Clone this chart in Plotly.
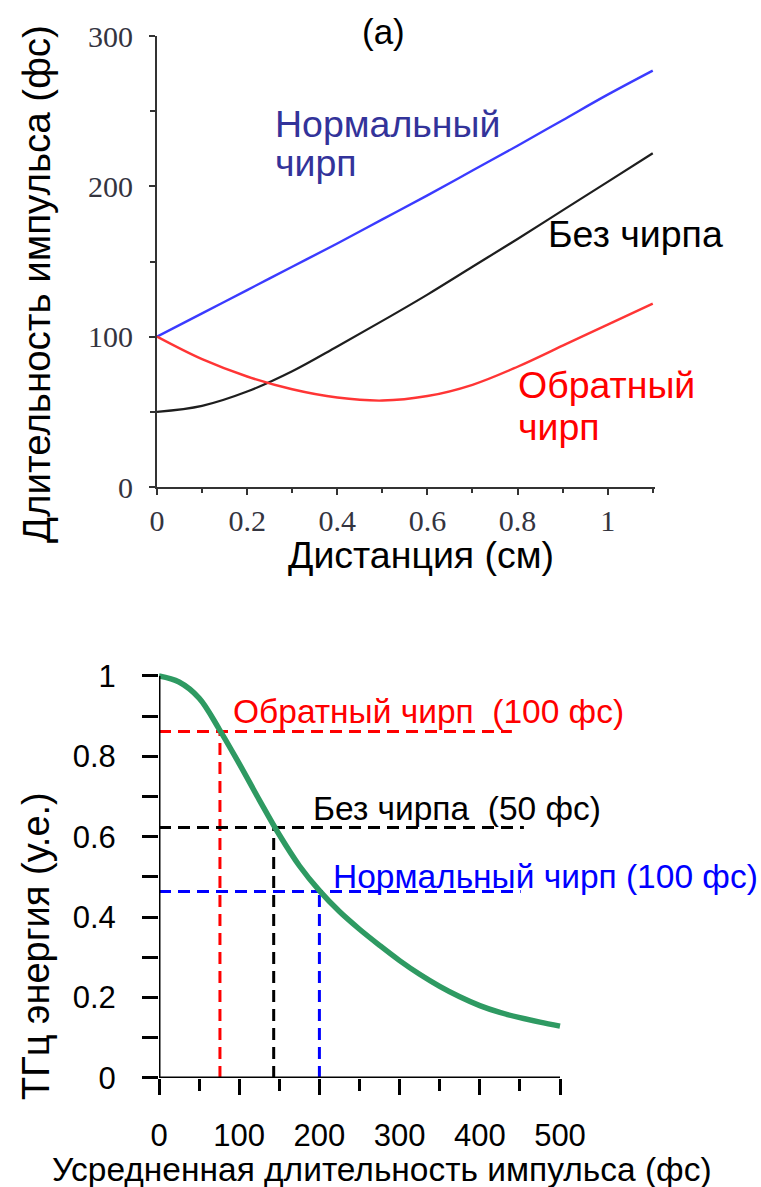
import plotly.graph_objects as go

W, H = 761, 1187

# ---------------- Top panel (a): pulse duration vs distance ----------------
dist_cm = [0, 0.1, 0.2, 0.3, 0.4, 0.5, 0.6, 0.7, 0.8, 0.9, 1.0, 1.1]
normal_chirp = [100, 115.5, 131, 146.5, 162, 178, 194, 210.5, 227, 244, 261, 277]
no_chirp = [50, 54, 63.5, 77, 93.5, 110.5, 128, 146.5, 165, 184, 203, 222]
inverse_chirp = [100, 85, 73.5, 65, 59.5, 57.5, 60.5, 68, 80, 94, 108, 122]
top_xticks = [0, 0.2, 0.4, 0.6, 0.8, 1]
top_yticks = [0, 100, 200, 300]

# ---------------- Bottom panel: THz energy vs average pulse duration ----------------
avg_dur = [0, 25, 50, 75, 100, 125, 150, 175, 200, 225, 250, 275, 300, 325, 350,
           375, 400, 425, 450, 475, 500]
thz_energy = [1.0, 0.985, 0.945, 0.868, 0.782, 0.692, 0.605, 0.528, 0.466, 0.414, 0.37,
              0.33, 0.292, 0.258, 0.228, 0.202, 0.18, 0.163, 0.15, 0.139, 0.129]
bot_xticks = [0, 100, 200, 300, 400, 500]
bot_yticks = [0, 0.2, 0.4, 0.6, 0.8, 1]

ref_labels = ["Обратный чирп\u00a0 (100 фс)", "Без чирпа\u00a0 (50 фс)", "Нормальный чирп (100 фс)"]
ref_colors = ["#ff0000", "#000000", "#0000ff"]
ref_dur = [76, 143, 200]
ref_energy = [0.862, 0.623, 0.464]
ref_hline_end = [440, 455, 451]


def px(x):
    return x / W


def py(y):
    return 1 - y / H


SANS = "Liberation Sans, Arial, sans-serif"
SERIF = "Liberation Serif, Times New Roman, serif"

fig = go.Figure()

# top curves
fig.add_trace(go.Scatter(x=dist_cm, y=normal_chirp, mode="lines", line=dict(color="#3b3bff", width=2.4),
                         xaxis="x", yaxis="y", line_shape="spline"))
fig.add_trace(go.Scatter(x=dist_cm, y=no_chirp, mode="lines", line=dict(color="#1e1e1e", width=2.2),
                         xaxis="x", yaxis="y", line_shape="spline"))
fig.add_trace(go.Scatter(x=dist_cm, y=inverse_chirp, mode="lines", line=dict(color="#ff3535", width=2.4),
                         xaxis="x", yaxis="y", line_shape="spline"))

# bottom reference dashed lines
for lab, col, xd, ye, xe in zip(ref_labels, ref_colors, ref_dur, ref_energy, ref_hline_end):
    fig.add_trace(go.Scatter(x=[0, xe], y=[ye, ye], mode="lines",
                             line=dict(color=col, width=3, dash="12px,7px"),
                             xaxis="x2", yaxis="y2"))
    fig.add_trace(go.Scatter(x=[xd, xd], y=[0, ye], mode="lines",
                             line=dict(color=col, width=3, dash="12px,7px"),
                             xaxis="x2", yaxis="y2"))

# green curve
fig.add_trace(go.Scatter(x=avg_dur, y=thz_energy, mode="lines", line=dict(color="#2e9a62", width=5.5),
                         xaxis="x2", yaxis="y2", line_shape="spline"))

# bottom axis lines (drawn from tick ranges)
fig.add_shape(type="line", xref="x2", yref="y2", x0=bot_xticks[0], x1=bot_xticks[-1], y0=0, y1=0,
              line=dict(color="black", width=3))
fig.add_shape(type="line", xref="x2", yref="y2", x0=0, x1=0, y0=bot_yticks[0], y1=bot_yticks[-1],
              line=dict(color="black", width=3))

top_tick_font = dict(family=SERIF, size=30, color="#34343f")
bot_tick_font = dict(family=SANS, size=31, color="black")

fig.update_layout(
    width=W, height=H,
    margin=dict(l=0, r=0, t=0, b=0, autoexpand=False),
    paper_bgcolor="white", plot_bgcolor="white",
    showlegend=False,
    xaxis=dict(domain=[px(157), px(655)], range=[0, 1.105], anchor="y", automargin=False,
               tickvals=top_xticks, ticks="outside", ticklen=6, tickwidth=2, tickcolor="#333",
               showline=True, linecolor="#333", linewidth=2, showgrid=False, zeroline=False,
               tickfont=top_tick_font, ticklabelstandoff=0,
               minor=dict(dtick=0.1, ticks="outside", ticklen=4, tickwidth=2, tickcolor="#333")),
    yaxis=dict(domain=[py(487), py(36)], range=[0, 300], anchor="x", automargin=False,
               tickvals=top_yticks, ticks="outside", ticklen=6, tickwidth=2, tickcolor="#333",
               showline=True, linecolor="#333", linewidth=2, showgrid=False, zeroline=False,
               tickfont=top_tick_font, ticklabelstandoff=10,
               minor=dict(dtick=50, ticks="outside", ticklen=5, tickwidth=2, tickcolor="#333")),
    xaxis2=dict(domain=[px(159), px(159 + 504 * 0.802)], range=[0, 504], anchor="y2", automargin=False,
                tickvals=bot_xticks, ticks="outside", ticklen=16, tickwidth=3, tickcolor="black",
                showline=False, showgrid=False, zeroline=False,
                tickfont=bot_tick_font, ticklabelstandoff=14,
                minor=dict(dtick=50, ticks="outside", ticklen=12, tickwidth=3, tickcolor="black")),
    yaxis2=dict(domain=[py(1078), py(1078 - 1.012 * 402)], range=[0, 1.012], anchor="x2", automargin=False,
                tickvals=bot_yticks, ticks="outside", ticklen=16, tickwidth=3, tickcolor="black",
                showline=False, showgrid=False, zeroline=False,
                tickfont=bot_tick_font, ticklabelstandoff=20,
                minor=dict(dtick=0.1, ticks="outside", ticklen=16, tickwidth=3, tickcolor="black")),
)

ann = []


def add_text(text, x, y, size, color="black", family=SANS, xanchor="left", textangle=0):
    ann.append(dict(text=text, x=px(x), y=py(y), xref="paper", yref="paper", showarrow=False,
                    xanchor=xanchor, yanchor="middle", textangle=textangle,
                    font=dict(family=family, size=size, color=color)))


# top texts
add_text("(a)", 383, 31, 35, xanchor="center")
add_text("Нормальный", 273, 124, 37.5, color="#33339a")
add_text("чирп", 273, 163, 37.5, color="#33339a")
add_text("Без чирпа", 546, 234, 37.5)
add_text("Обратный", 516, 385, 37.5, color="#ff0000")
add_text("чирп", 516, 427, 37.5, color="#ff0000")
add_text("Дистанция (см)", 421, 555, 37.5, xanchor="center")
add_text("Длительность импульса (фс)", 37, 284, 38.5, xanchor="center", textangle=-90)

# bottom texts
add_text(ref_labels[0], 231, 711, 33.5, color=ref_colors[0])
add_text(ref_labels[1], 311, 808, 33.5, color=ref_colors[1])
add_text(ref_labels[2], 331, 876, 33.5, color=ref_colors[2])
add_text("Усредненная длительность импульса (фс)", 382, 1169, 33.5, xanchor="center")
add_text("ТГц энергия (у.е.)", 36, 946, 38, xanchor="center", textangle=-90)

fig.update_layout(annotations=ann)

fig.write_html("out.html")
